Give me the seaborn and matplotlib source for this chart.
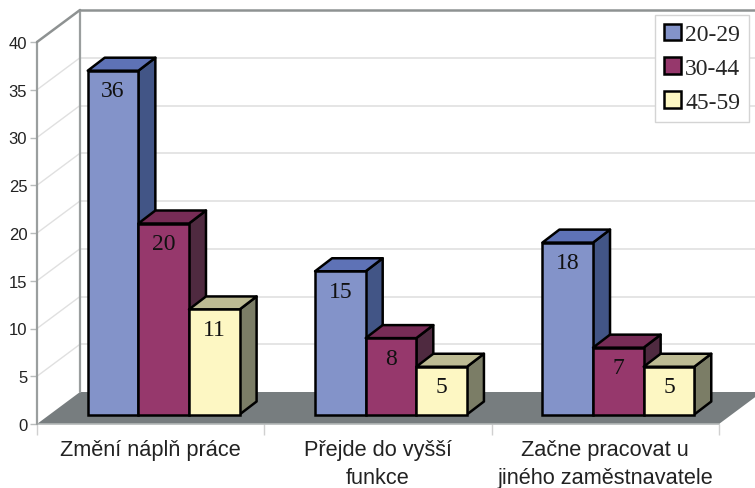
import matplotlib
matplotlib.use("Agg")
import numpy as np
import pandas as pd
import seaborn as sns
import matplotlib.pyplot as plt
from matplotlib.patches import Polygon, Patch
from matplotlib.transforms import Affine2D, IdentityTransform

categories = ["Změní náplň práce", "Přejde do vyšší\nfunkce", "Začne pracovat u\njiného zaměstnavatele"]
groups = ["20-29", "30-44", "45-59"]
v2029 = [36, 15, 18]
v3044 = [20, 8, 7]
v4559 = [11, 5, 5]
yticks = [0, 5, 10, 15, 20, 25, 30, 35, 40]

front = ["#8393C9", "#96386C", "#FDF7C3"]
top = ["#5E72B6", "#772C56", "#BDBB93"]
side = ["#425586", "#4F2A40", "#7B7D66"]

df = pd.DataFrame({
    "cat": categories * 3,
    "age": [g for g in groups for _ in categories],
    "val": v2029 + v3044 + v4559,
})

sns.set_style("white")
plt.rcParams["font.family"] = ["Liberation Sans", "DejaVu Sans"]

W, H = 755, 489
fig = plt.figure(figsize=(W / 100, H / 100), dpi=100)
ax = fig.add_axes([37 / W, (H - 425) / H, 682 / W, 382 / H])

sns.barplot(data=df, x="cat", y="val", hue="age", order=categories, hue_order=groups,
            palette=front, width=0.668, gap=0, saturation=1, edgecolor="black",
            linewidth=1.8, legend=False, ax=ax)

ax.set_xlim(-0.5, 2.5)
ax.set_ylim(0, 40)
ax.set_xlabel("")
ax.set_ylabel("")
for s in ax.spines.values():
    s.set_visible(False)
ax.patch.set_alpha(0)

ax.set_yticks(yticks)
ax.tick_params(axis="y", left=True, length=5, width=1, color="#b8bcbc", labelsize=12,
               labelcolor="#222222", pad=2)
ax.set_xticks([0, 1, 2])
ax.set_xticklabels(categories, linespacing=1.42)
ax.set_xticks([-0.5, 0.5, 1.5, 2.5], minor=True)
ax.tick_params(axis="x", which="major", bottom=False, labelsize=15.7, labelcolor="#222222", pad=7.5)
ax.tick_params(axis="x", which="minor", bottom=True, length=8, width=1, color="#d0d0d0")


def px(x, y, dx=0, dy=0):
    p = ax.transData.transform((x, y))
    return (p[0] + dx, p[1] + dy)


def poly(pts, **kw):
    ax.add_patch(Polygon(pts, closed=True, transform=IdentityTransform(), clip_on=False, **kw))


WX, WY = 43, 32    # offset of the back wall
BX, BY = 13, 9.5   # offset of the bars' front from the axis plane
DX, DY = 17, 13    # bar depth

# floor
poly([px(-0.5, 0), px(2.5, 0), px(2.5, 0, WX, WY), px(-0.5, 0, WX, WY)],
     facecolor="#777D7F", edgecolor="none", zorder=1)
ax.plot([-0.5, 2.5], [0, 0], color="#b4b8b8", lw=1.2, zorder=1.1, clip_on=False)

# walls
wall = ax.transData + Affine2D().translate(WX, WY)
for v in yticks[1:-1]:
    ax.plot([-0.5, 2.7], [v, v], transform=wall, color="#e0e0e0", lw=1.2, zorder=1, clip_on=False)
    a, b = px(-0.5, v), px(-0.5, v, WX, WY)
    ax.plot([a[0], b[0]], [a[1], b[1]], transform=IdentityTransform(), color="#e0e0e0", lw=1, zorder=1, clip_on=False)
ax.plot([-0.5, 2.7], [40, 40], transform=wall, color="#8E9292", lw=1.8, zorder=1.2, clip_on=False)
ax.plot([-0.5, -0.5], [0, 40], transform=wall, color="#9A9E9E", lw=1.6, zorder=1.2, clip_on=False)
ax.plot([-0.5, -0.5], [0, 40], color="#9A9E9E", lw=1.6, zorder=1.2, clip_on=False)
a, b = px(-0.5, 40), px(-0.5, 40, WX, WY)
ax.plot([a[0], b[0]], [a[1], b[1]], transform=IdentityTransform(), color="#8E9292", lw=1.8, zorder=1.2, clip_on=False)

# bars, left to right so each one covers the side of the one before
shift = ax.transData + Affine2D().translate(BX, BY)
bars = sorted([p for c in ax.containers for p in c], key=lambda p: p.get_x())
hue_of = {id(p): i for i, c in enumerate(ax.containers) for p in c}
for n, bar in enumerate(bars):
    i = hue_of[id(bar)]
    x0, x1, h = bar.get_x(), bar.get_x() + bar.get_width(), bar.get_height()
    z = 3 + n * 0.1
    edge = dict(edgecolor="black", linewidth=1.8, joinstyle="round", zorder=z)
    poly([px(x1, 0, BX, BY), px(x1, 0, BX + DX, BY + DY), px(x1, h, BX + DX, BY + DY), px(x1, h, BX, BY)],
         facecolor=side[i], **edge)
    poly([px(x0, h, BX, BY), px(x1, h, BX, BY), px(x1, h, BX + DX, BY + DY), px(x0, h, BX + DX, BY + DY)],
         facecolor=top[i], **edge)
    bar.set_transform(shift)
    bar.set_clip_on(False)
    bar.set_zorder(z + 0.01)
    ax.annotate(f"{h:.0f}", xy=((x0 + x1) / 2, h), xycoords=shift, xytext=(0, -14.5), textcoords="offset points",
                ha="center", va="center", family="Liberation Serif", fontsize=17, color="#111111", zorder=10)

handles = [Patch(facecolor=c, edgecolor="black", linewidth=1.8, label=g) for c, g in zip(front, groups)]
leg = fig.legend(handles=handles, loc="upper left", bbox_to_anchor=(655 / W, 1 - 16 / H),
                 prop={"family": "Liberation Serif", "size": 17}, frameon=True, fancybox=False,
                 edgecolor="#d4d4d4", facecolor="white", framealpha=1, borderaxespad=0,
                 handlelength=0.72, handleheight=0.72, handletextpad=0.2, labelspacing=0.52,
                 borderpad=0.36)
leg.set_zorder(20)
leg.get_frame().set_linewidth(1)

fig.savefig("out.png", dpi=100)
